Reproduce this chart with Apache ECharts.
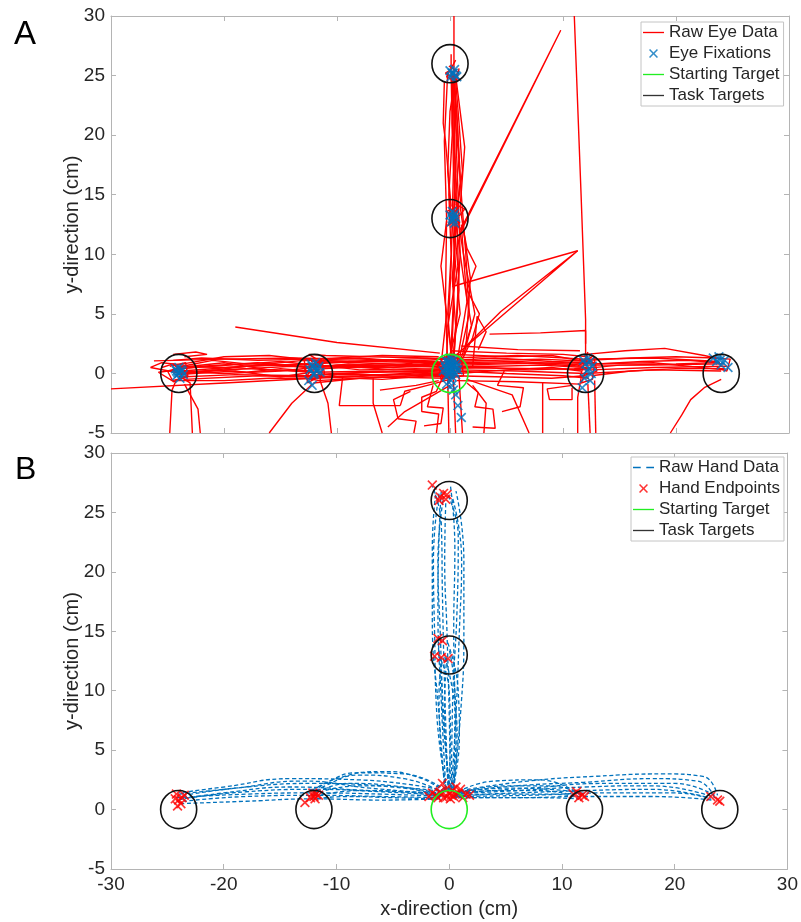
<!DOCTYPE html>
<html>
<head>
<meta charset="utf-8">
<script src="https://cdn.jsdelivr.net/npm/echarts@6/dist/echarts.min.js"></script>
<style>html,body{margin:0;padding:0;background:#fff}#chart{width:801px;height:922px}</style>
</head>
<body>
<div id="chart"></div>
<script>
// ---------- axis ranges ----------
const xRange = { min: -30, max: 30, interval: 10 };
const yRange = { min: -5, max: 30, interval: 5 };

// ---------- targets ----------
const startTarget = [[0, 0]];
const taskTargets = [[-24, 0], [-12, 0], [12, 0], [24, 0], [0, 13], [0, 26]];
const targetRadius = 1.6;

// ---------- Panel A: raw eye data traces (x, y in cm) ----------
const eyeTraces = [
  [[0,0.5],[-5,0.7],[-11,0.4],[-12.2,0.3]],
  [[0.2,0.9],[-6,1.1],[-12,0.8],[-18,0.6],[-23.8,0.2]],
  [[-0.3,0.2],[-7,0.1],[-12.5,-0.2],[-19,-0.1],[-24,-0.3]],
  [[0.4,1.3],[-4,1.2],[-9,1.0],[-12,0.9]],
  [[-0.2,-0.4],[-6,-0.3],[-11.8,-0.6]],
  [[0.1,0.6],[-8,0.5],[-14,0.6],[-20,0.3],[-24.3,0.1],[-26.5,0.5],[-25.5,0.9],[-23.5,0.7]],
  [[-23.8,0.4],[-18,0.8],[-12.6,0.6],[-6,0.8],[-0.5,0.7]],
  [[-30,-1.3],[-20,-0.8],[-12,-0.4],[-4,-0.1],[0,0.1]],
  [[-26.2,1.05],[-20,1.2],[-14,1.3],[-8,1.2],[-1,1.0]],
  [[-24.5,1.6],[-22.5,1.8],[-21.5,1.6],[-23.5,1.4]],
  [[-19,3.9],[-10,2.6],[-0.9,1.7]],
  [[-0.4,-0.1],[-6,-0.5],[-11.5,-0.3],[-17,-0.2],[-23.5,-0.5]],
  [[-12,0.2],[-16,0.3],[-20,0.9],[-24,0.5]],
  [[0.3,0.3],[-4,0.2],[-10,0.0],[-12.4,-0.1]],
  [[-11.8,1.2],[-12.5,1.6],[-11,1.5],[-7,1.4],[-2,1.3],[0.5,1.1]],
  [[-0.6,0.4],[-5,0.3],[-9,0.6],[-12.7,0.5],[-17,0.9],[-22,0.6],[-24.6,0.3]],
  [[0.5,0.0],[-3,-0.2],[-8,-0.4],[-12.1,-0.8]],
  [[-24.1,-0.1],[-19,0.2],[-15,-0.3],[-12.3,0.1]],
  [[-12.3,1.0],[-8,0.9],[-3,0.7],[0.2,0.4]],
  [[-23.6,0.8],[-20,1.4],[-16,1.5],[-13,1.2],[-11.6,1.0]],
  [[-0.8,0.9],[-7,1.0],[-13,1.1],[-19,0.5],[-23.9,-0.1]],
  [[0.3,0.7],[-3,0.9],[-6,0.6],[-9,0.8],[-11.9,0.5]],
  [[-0.5,1.2],[-4,1.0],[-8,1.3],[-11.7,1.1]],
  [[0.1,-0.2],[-4,0.0],[-8,-0.2],[-12,-0.3]],
  [[-12.5,0.2],[-15,0.4],[-18,0.1],[-21,0.3],[-24.2,-0.1]],
  [[-11.9,0.7],[-15,1.0],[-18,0.8],[-21,1.1],[-23.7,0.6]],
  [[-12.2,-0.4],[-16,-0.4],[-20,-0.6],[-24.1,-0.6]],
  [[0.6,1.0],[-5,0.5],[-10,0.7],[-15,0.2],[-20,0.0],[-24.4,0.2]],
  [[-0.3,0.0],[-6,0.2],[-12,0.1],[-18,0.4],[-24,0.0]],
  [[-1,1.4],[-6,1.5],[-12,1.2],[-17,1.1],[-22,1.3],[-24.5,1.1]],
  [[-0.2,0.8],[-3,0.6],[-7,0.7],[-12.3,0.6]],
  [[-24.3,0.6],[-20,0.5],[-16,0.7],[-12.5,0.8],[-8,0.3],[-3,0.4],[0,0.3]],
  [[0.4,-0.3],[-5,-0.1],[-10,-0.1],[-12.3,-0.5]],
  [[-25.5,0.5],[-24.5,0.8],[-23.2,-0.3],[-24.6,-0.6],[-25.8,0.1],[-24,0.3]],
  [[-24.8,0.6],[-23.4,0.9],[-23.2,-0.2],[-24.5,-0.7],[-25,0.2],[-23.7,0.5]],
  [[-12.8,0.8],[-11.2,0.7],[-11.5,-0.6],[-12.8,-0.4],[-12.2,0.4]],
  [[-12.9,0.3],[-11.4,1.2],[-11.1,0.0],[-12.6,-0.8],[-12.9,1.1]],
  [[-24,-0.2],[-23,-0.8],[-22.8,-5]],
  [[-24.2,-0.5],[-24.6,-1.4],[-24.8,-5]],
  [[-23.5,-0.9],[-22.3,-3],[-22.1,-5]],
  [[-12.2,-0.9],[-14,-2.5],[-16,-5]],
  [[-11.5,-0.6],[-10.8,-2.5],[-10.5,-5]],
  [[-9.5,-0.3],[-9.8,-2.7],[-4.4,-2.7]],
  [[-6.8,-0.4],[-6.8,-2.5],[-6.0,-5]],
  [[-4.4,-2.7],[-4,-1.5],[-2,-1],[0,-0.5]],
  [[-0.5,0],[-1.2,-1.5],[-2.5,-2],[-2.5,-3.2],[-1,-3.4],[-1.2,-5]],
  [[0.3,-0.5],[0.5,-5]],
  [[0.8,-0.3],[1.1,-5]],
  [[-0.2,-0.5],[-0.1,-5]],
  [[1.5,-0.8],[2.5,-1.6],[2.2,-2.8],[3.8,-3],[4,-4.6],[2,-4.5]],
  [[-3.5,-1.5],[-5,-2.2],[-4.6,-3.8],[-3,-4],[-3.2,-5]],
  [[0,-1],[-4,-3.2],[-5.5,-4.5]],
  [[-6.2,-1.4],[-3,-1],[-1,-0.6]],
  [[4.8,0.2],[4.2,-1],[6.5,-1.2],[6.2,-2.8],[4.6,-3.2]],
  [[1.5,-0.5],[5.5,-1.8],[7,-5]],
  [[2,-1],[3.2,-2.5],[3.0,-5]],
  [[-1.5,-1],[-2,-2.8],[-0.6,-2.9],[-0.8,-4.2],[-2.3,-4.4]],
  [[0.5,0.8],[6,0.9],[11.8,0.6]],
  [[0.3,0.2],[5,0.0],[10,-0.2],[12.3,-0.4]],
  [[0.2,1.3],[6,1.5],[12,1.2],[18,1.3],[23.8,1.0]],
  [[0.4,0.5],[8,0.4],[12.5,0.3],[18,0.5],[24.5,0.6]],
  [[12,1.6],[15.5,1.9],[19,2.1],[22.5,1.5],[24,1.2]],
  [[12.4,0.8],[18,0.9],[24.3,0.3]],
  [[0,1.9],[5,1.7],[10,1.6],[12.2,1.4]],
  [[0.6,-0.6],[6,-0.7],[11.5,-0.9]],
  [[-0.2,1.0],[4,1.1],[8,1.2],[12.6,1.0]],
  [[0.7,0.0],[5,0.3],[9,0.5],[11.6,0.2]],
  [[11.8,0.4],[15,0.7],[20,0.8],[23.4,0.9]],
  [[1,2.3],[6,2.0],[11.5,1.9]],
  [[0.3,0.6],[4,0.6],[8,0.7],[12.1,0.5]],
  [[0.6,1.1],[4,1.3],[9,1.0],[12.4,0.9]],
  [[0.2,-0.2],[5,-0.3],[9,-0.4],[11.9,-0.2]],
  [[0.5,0.3],[6,0.2],[12,0.0],[18,0.3],[24,0.2]],
  [[0.1,0.9],[6,1.0],[12,0.7],[18,0.7],[24.2,0.8]],
  [[12.3,1.1],[16,1.3],[20,1.4],[23.5,1.3]],
  [[12.5,-0.2],[16,0.2],[20,0.4],[24.3,0.4]],
  [[0.4,1.6],[5,1.4],[9,1.5],[12,1.0]],
  [[-0.1,0.4],[3,0.5],[7,0.3],[11,0.4],[12.8,0.5]],
  [[0.8,0.7],[5,0.8],[10,0.9],[13,0.8],[17,1.0],[21,1.1],[23.9,0.9]],
  [[3.5,3.3],[8,3.4],[12,3.6],[12,1.5]],
  [[11,30],[11.6,15],[12,4.5],[12,2.5]],
  [[0.5,1.5],[11.3,10.3],[4.5,5.2],[1,1.9]],
  [[0.2,7.3],[11.3,10.3]],
  [[0.9,12],[9.8,28.8],[0.8,11.6]],
  [[11.4,1.2],[12.8,0.9],[12.6,-0.5],[11.6,-0.8],[12.1,0.3]],
  [[11.3,0.6],[12.7,1.5],[13,0.2],[11.5,-0.3],[12.2,1.8]],
  [[23.2,1.3],[24.8,1.2],[24.5,0.2],[23.6,0.5]],
  [[12.2,-0.9],[12.4,-5]],
  [[12.8,-0.6],[12.9,-5]],
  [[11.6,-0.4],[11.3,-2],[11.3,-5]],
  [[24,-0.5],[22.5,-1.2],[21.3,-2.2],[20.5,-3.5],[19.5,-5]],
  [[8.2,-0.8],[8.2,-5]],
  [[10.8,-1],[8.6,-1.3],[8.8,-2.2],[10.8,-2.2],[10.8,-1.2]],
  [[0,0.5],[0.3,6],[0.5,12.8]],
  [[0.3,1],[0.8,7],[0.6,13.3],[0.4,20],[0.3,25]],
  [[-0.2,0.3],[-0.4,6],[-0.3,13],[-0.5,19.5],[-0.2,25.3]],
  [[0.35,30],[0.35,20],[0.4,13.5],[0.3,5],[0.1,0.5]],
  [[0.6,0.8],[1.5,6],[1.0,12.5]],
  [[1.2,1.5],[2.2,5],[1.2,10],[0.7,13]],
  [[0.5,25],[1.3,19],[0.9,14],[1.8,8],[1.4,2]],
  [[0.1,24.8],[0.8,18],[0.3,13]],
  [[-0.5,24.5],[-0.6,21],[-0.4,19.5],[0.1,14]],
  [[0.1,26.8],[0.1,25.5],[-0.4,25.2],[0.6,24.6],[0.8,25.6]],
  [[0.5,12.5],[1.2,12],[1.5,10.5],[2.3,9],[1.5,7],[2.6,5],[2,3],[1,1]],
  [[-0.3,12.8],[-0.8,9],[-0.3,5],[-0.7,1.5]],
  [[2,0.5],[2.4,4.8],[3.2,3.5],[2.5,2]],
  [[0.8,13.2],[1.3,13.8],[0.5,14.2]],
  [[0.2,0.4],[0.5,4],[0.2,8],[0.6,12.9]],
  [[-0.1,1.2],[0.9,5],[0.5,9],[0.2,12.7]],
  [[0.4,0.2],[-0.2,4],[0.7,9],[0.3,13.1]],
  [[0.9,1.0],[1.9,4],[1.2,8],[0.4,13.4]],
  [[0.3,13.2],[0.5,17],[0.2,21],[0.4,24.9]],
  [[0.5,13.0],[0.9,16],[0.6,22],[0.2,25.4]],
  [[0.1,12.9],[-0.2,17],[0,22],[0.5,25.1]],
  [[0.6,13.4],[1.1,17],[0.8,21],[0.5,24.6]],
  [[0.3,0.5],[0.9,10],[0.6,18],[0.4,25.2]],
  [[-0.3,1.3],[0.1,9],[0.3,17],[0.2,25.0]],
  [[0.4,24.7],[0.7,20],[1.0,15],[1.4,10],[1.7,5],[0.8,1.1]],
  [[0.1,25.4],[0.2,20],[-0.1,15],[0.1,10],[-0.2,5],[0.2,0.2]],
  [[0.9,12.6],[-0.3,13.6],[0.7,14],[-0.2,12.4],[0.8,13.1]],
  [[-0.1,25.8],[0.7,25.3],[0.3,24.6],[-0.3,24.9],[0.5,26.3]],
  [[-1.2,0.5],[-0.5,1.4],[1,1.2],[1.2,-0.2],[-0.8,-0.5],[-1.0,0.9]],
  [[-0.8,0.2],[0.6,1.3],[-0.3,1.5],[0.9,0.1],[-0.6,-0.3],[0.4,-0.4],[-0.9,1.0],[0.7,0.8]]
];

// ---------- Panel A: eye fixations ----------
const eyeFixations = [
  [0,0.5],[0.2,0.8],[-0.3,0.3],[0.4,0.1],[-0.1,1.0],[0.3,0.6],[-0.5,0.7],[0.1,0.2],[0.6,0.9],[-0.2,-0.1],
  [0.5,0.4],[-0.4,1.1],[0.0,1.3],[0.2,-0.3],[-0.6,0.2],[0.7,0.3],[0.3,1.1],[-0.1,0.6],[0.1,-0.6],[0.15,-1.0],
  [-0.2,0.9],[0.4,0.7],[0.0,0.0],[-0.4,0.5],[0.6,0.6],[0.2,1.2],[-0.3,-0.3],[0.5,-0.1],[0.1,0.4],[-0.1,0.2],
  [0.3,-1.4],[0.7,-2.7],[1.0,-3.7],[-0.3,-0.9],[0.5,-1.8],
  [-24,0],[-23.8,0.3],[-24.2,-0.2],[-23.6,-0.1],[-24.3,0.4],[-23.9,-0.4],[-24.1,0.1],[-23.7,0.2],[-24.0,0.5],[-24.2,0.2],
  [-12,0.5],[-11.8,0.2],[-12.3,0.8],[-11.6,0.6],[-12.1,-0.1],[-12.4,0.3],[-11.9,0.9],[-12.2,-1.0],[-11.5,0.1],[-12.5,-0.6],
  [-12.0,0.0],[-11.7,0.4],[-12.2,0.6],
  [12,0.8],[12.3,0.4],[11.8,1.1],[12.5,0.0],[12.2,1.3],[11.9,-0.4],[11.7,-1.2],[12.6,0.6],[12.4,-0.6],[12.1,0.2],[12.4,1.0],
  [23.6,1.0],[24,0.7],[23.3,1.3],[24.6,0.5],[23.8,1.4],[24.3,1.1],[23.9,1.1],
  [0.2,13],[0.4,13.4],[0.1,12.7],[0.5,13.1],[0.3,12.9],[0.0,13.3],[0.4,12.6],[0.2,13.6],[0.3,13.2],
  [0.2,25.2],[0.5,25.0],[0.0,25.4],[0.4,25.5],[0.6,24.9],[0.1,24.9],[0.3,25.2]
];

// ---------- Panel B: raw hand data traces ----------
const handTraces = [
  [[-0.5,1.2],[-6,1.5],[-12,1.7],[-18,1.5],[-23,1.0],[-24,0.8]],
  [[-0.8,1.0],[-6,1.1],[-12,1.2],[-18,1.1],[-23.5,0.7]],
  [[-0.3,1.5],[-6,2.0],[-12,2.2],[-18,1.9],[-23.5,1.2]],
  [[-1,0.9],[-6,0.8],[-12,0.9],[-18,0.7],[-23.8,0.5]],
  [[-0.6,1.3],[-7,1.8],[-13,2.4],[-19,1.8],[-24,1.3]],
  [[-0.2,1.1],[-6,1.3],[-12,1.4],[-18,1.3],[-24.2,1.0]],
  [[-0.4,1.6],[-8,2.5],[-14,2.6],[-20,1.9],[-24,1.4]],
  [[-0.7,1.4],[-7,1.6],[-14,1.9],[-20,1.4],[-23.6,0.9]],
  [[-0.5,1.4],[-4,2.6],[-8,2.9],[-11,2.0],[-12,1.3]],
  [[-0.7,1.1],[-4,1.5],[-8,1.6],[-11.5,1.2]],
  [[-0.3,1.6],[-4,3.0],[-8,3.1],[-11,2.2],[-12.2,1.2]],
  [[-1,0.9],[-5,1.0],[-9,1.1],[-12,0.9]],
  [[-0.6,1.3],[-5,2.0],[-9,2.2],[-11.8,1.4]],
  [[-0.4,1.5],[-3,2.8],[-6,3.2],[-10,2.6],[-12.3,1.5]],
  [[-0.9,1.2],[-4,1.8],[-8,2.0],[-11.4,1.5]],
  [[0.5,1.2],[4,1.6],[8,1.6],[11,1.2]],
  [[0.8,1.5],[4,2.4],[8,2.5],[11.2,1.5]],
  [[0.3,1.0],[4,1.0],[8,1.0],[11.5,0.9]],
  [[0.6,1.3],[5,2.0],[9,2.0],[11.8,1.2]],
  [[0.4,1.1],[5,1.3],[9,1.3],[11.3,1.1]],
  [[0.9,1.4],[5,1.8],[9,1.7],[11.6,1.4]],
  [[0.6,1.2],[6,1.4],[12,1.6],[18,1.7],[23,1.0]],
  [[0.8,1.5],[6,2.0],[12,2.3],[18,2.6],[22,2.4],[23.5,1.1]],
  [[0.4,1.0],[6,1.0],[12,1.1],[18,1.1],[23.3,0.8]],
  [[1,1.6],[7,2.4],[13,2.8],[19,3.0],[22.5,2.8],[23.8,1.2]],
  [[0.5,1.3],[6,1.6],[12,1.9],[18,2.0],[23.6,1.0]],
  [[0.7,1.1],[7,1.2],[14,1.4],[20,1.4],[23.2,0.9]],
  [[0.9,1.4],[7,1.8],[14,2.2],[20,2.2],[23.7,1.1]],
  [[0,1.5],[-0.3,5],[-0.4,9],[-0.2,13]],
  [[0.2,1.6],[0.6,6],[0.5,10],[0,13.5]],
  [[-0.3,1.7],[-0.8,6],[-0.9,10],[-0.6,12.5]],
  [[0.3,1.8],[0.9,6],[0.8,10],[-0.2,14.2]],
  [[-0.1,1.5],[0.1,6],[0,10],[-0.8,12.7]],
  [[0.1,1.6],[-0.5,7],[-0.7,11],[-1,14.3]],
  [[0.4,1.7],[0.7,6],[0.3,10],[-0.4,12.9]],
  [[0,1.6],[-0.5,8],[-0.8,15],[-1,21],[-0.5,26.3]],
  [[0.2,1.8],[0.6,8],[0.9,15],[1.1,21],[0.3,26.2]],
  [[-0.2,1.7],[-1.1,8],[-1.3,15],[-1.4,21],[-0.9,26.6]],
  [[0.3,1.5],[1.0,8],[1.3,15],[1.3,21],[0.6,26.8]],
  [[0.1,1.9],[0,8],[-0.2,15],[-0.4,21],[-0.3,26]],
  [[-0.4,1.6],[-0.9,8],[-1.5,16],[-1.5,22],[-1.2,26.6]],
  [[0.4,1.7],[0.5,8],[0.4,15],[0.5,22],[0.1,27.3]],
  [[-0.1,1.5],[-0.4,10],[-0.6,18],[-0.7,24],[-1.5,27.2]],
  [[0.2,1.6],[0.3,9],[0.7,17],[0.8,23],[-0.1,26.4]],
  [[-0.3,1.8],[-0.7,9],[-1.0,17],[-0.9,23],[-0.7,26.9]]
];

// ---------- Panel B: hand endpoints ----------
const handEndpoints = [
  [-24,0.8],[-23.7,1.0],[-24.2,1.3],[-23.8,0.5],[-24.1,0.3],[-23.5,1.2],[-24.3,0.9],
  [-12,1.1],[-11.8,1.3],[-12.3,1.0],[-11.6,1.2],[-12.1,1.4],[-12.8,0.6],[-11.9,0.9],
  [-1.2,1.2],[-0.8,1.5],[-0.5,1.0],[0,1.3],[0.4,1.1],[0.8,1.4],[1.2,1.0],[-0.3,1.7],[0.3,1.6],
  [-1.5,1.4],[1.5,1.3],[0.1,0.9],[-0.6,2.2],[0.6,1.9],[-1,1.0],[1,1.7],[0.2,1.2],
  [-0.2,1.1],[0.5,1.3],[-0.7,1.3],[1.8,1.2],[-1.8,1.1],
  [11,1.3],[11.5,1.0],[11.8,1.2],[11.3,1.5],[12,1.1],
  [23.2,1.1],[23.8,0.8],[24,0.7],
  [-1.0,14.4],[-0.6,14.2],[-1.3,12.9],[-0.7,12.8],[-0.1,12.7],
  [-1.5,27.3],[-0.8,26.3],[-0.5,26.6],[-0.3,26.1],[-0.9,26.0],[-0.2,26.5]
];

// ---------- styling ----------
const FONT = '"Liberation Sans", Arial, Helvetica, sans-serif';
const TXT = '#262626';
const AX = '#b4b4b4';
const RED = '#ff0000';
const BLUE = '#0072bd';
const GREEN = '#22ee22';
const XPATH = 'path://M0,1.2L1.2,0L5,3.8L8.8,0L10,1.2L6.2,5L10,8.8L8.8,10L5,6.2L1.2,10L0,8.8L3.8,5Z';
const LINEICON = 'path://M0,0H22V1.4H0Z';
const DASHICON = 'path://M1,0H8V1.4H1Z M13,0H20V1.4H13Z';

function axisBase(extra) {
  return Object.assign({
    type: 'value',
    axisLine: { show: true, onZero: false, lineStyle: { color: AX, width: 1 } },
    axisTick: { show: true, inside: true, length: 5, lineStyle: { color: AX } },
    splitLine: { show: false },
    axisLabel: { show: false },
    nameMoveOverlap: false
  }, extra);
}
const tickLabel = { show: true, color: TXT, fontSize: 19, fontFamily: FONT };
const nameStyle = { color: TXT, fontSize: 20, fontFamily: FONT };

function traceSeries(traces, name, lineStyle, idx, smooth) {
  return traces.map(t => ({
    type: 'line', name: name, data: t, xAxisIndex: idx, yAxisIndex: idx,
    symbol: 'none', smooth: smooth, lineStyle: lineStyle, silent: true, clip: true, z: 2
  }));
}
function circleSeries(name, data, color, idx) {
  return {
    type: 'custom', name: name, data: data, xAxisIndex: idx, yAxisIndex: idx, z: 5, silent: true,
    renderItem: function (params, api) {
      const c = api.coord([api.value(0), api.value(1)]);
      const s = api.size([targetRadius, targetRadius]);
      return { type: 'ellipse', shape: { cx: c[0], cy: c[1], rx: s[0], ry: s[1] },
               style: { fill: 'none', stroke: color, lineWidth: 1.6 } };
    }
  };
}
function markSeries(name, data, color, idx) {
  return { type: 'scatter', name: name, data: data, xAxisIndex: idx, yAxisIndex: idx,
           symbol: XPATH, symbolSize: 10, itemStyle: { color: color }, silent: true, z: 4 };
}
function legendOpt(left, top, items) {
  return {
    orient: 'vertical', left: left, top: top, selectedMode: false,
    backgroundColor: '#fff', borderColor: '#c4c4c4', borderWidth: 1,
    padding: [2, 4, 2, 2], itemGap: 4, itemWidth: 21, itemHeight: 9, itemTextGap: 2,
    textStyle: { color: TXT, fontSize: 17, fontFamily: FONT, lineHeight: 17 },
    data: items, z: 10
  };
}

const eyeLine = { color: RED, width: 1.4 };
const handLine = { color: BLUE, width: 1.3, type: [4, 2.5] };

const series = [].concat(
  traceSeries(eyeTraces, 'Raw Eye Data', eyeLine, 0, false),
  [markSeries('Eye Fixations', eyeFixations, BLUE, 0),
   circleSeries('Starting Target', startTarget, GREEN, 0),
   circleSeries('Task Targets', taskTargets, '#111', 0)],
  traceSeries(handTraces, 'Raw Hand Data', handLine, 2, 0.5),
  [markSeries('Hand Endpoints', handEndpoints, RED, 2),
   circleSeries('Starting Target', startTarget, GREEN, 2),
   circleSeries('Task Targets', taskTargets, '#111', 2)]
);

const option = {
  animation: false,
  backgroundColor: '#fff',
  textStyle: { fontFamily: FONT },
  grid: [
    { left: 111, top: 16, width: 678, height: 417 },
    { left: 111, top: 453, width: 678, height: 416 }
  ],
  xAxis: [
    axisBase(Object.assign({ gridIndex: 0, position: 'bottom' }, xRange)),
    axisBase(Object.assign({ gridIndex: 0, position: 'top' }, xRange)),
    axisBase(Object.assign({ gridIndex: 1, position: 'bottom',
      axisLabel: Object.assign({ margin: 6 }, tickLabel),
      name: 'x-direction (cm)', nameLocation: 'middle', nameGap: 30, nameTextStyle: nameStyle }, xRange)),
    axisBase(Object.assign({ gridIndex: 1, position: 'top' }, xRange))
  ],
  yAxis: [
    axisBase(Object.assign({ gridIndex: 0, position: 'left',
      axisLabel: Object.assign({ margin: 6 }, tickLabel),
      name: 'y-direction (cm)', nameLocation: 'middle', nameGap: 29, nameTextStyle: nameStyle }, yRange)),
    axisBase(Object.assign({ gridIndex: 0, position: 'right' }, yRange)),
    axisBase(Object.assign({ gridIndex: 1, position: 'left',
      axisLabel: Object.assign({ margin: 6 }, tickLabel),
      name: 'y-direction (cm)', nameLocation: 'middle', nameGap: 29, nameTextStyle: nameStyle }, yRange)),
    axisBase(Object.assign({ gridIndex: 1, position: 'right' }, yRange))
  ],
  legend: [
    legendOpt(641, 22, [
      { name: 'Raw Eye Data', icon: LINEICON, itemStyle: { color: RED } },
      { name: 'Eye Fixations', icon: XPATH, itemStyle: { color: BLUE } },
      { name: 'Starting Target', icon: LINEICON, itemStyle: { color: GREEN } },
      { name: 'Task Targets', icon: LINEICON, itemStyle: { color: '#333' } }
    ]),
    legendOpt(631, 457, [
      { name: 'Raw Hand Data', icon: DASHICON, itemStyle: { color: BLUE } },
      { name: 'Hand Endpoints', icon: XPATH, itemStyle: { color: RED } },
      { name: 'Starting Target', icon: LINEICON, itemStyle: { color: GREEN } },
      { name: 'Task Targets', icon: LINEICON, itemStyle: { color: '#333' } }
    ])
  ],
  graphic: [
    { type: 'text', left: 14, top: 18, style: { text: 'A', font: '33px ' + FONT, fill: '#000' } },
    { type: 'text', left: 15, top: 454, style: { text: 'B', font: '32px ' + FONT, fill: '#000' } }
  ],
  series: series
};

const chart = echarts.init(document.getElementById('chart'), null, { renderer: 'canvas' });
chart.setOption(option);
</script>
</body>
</html>
